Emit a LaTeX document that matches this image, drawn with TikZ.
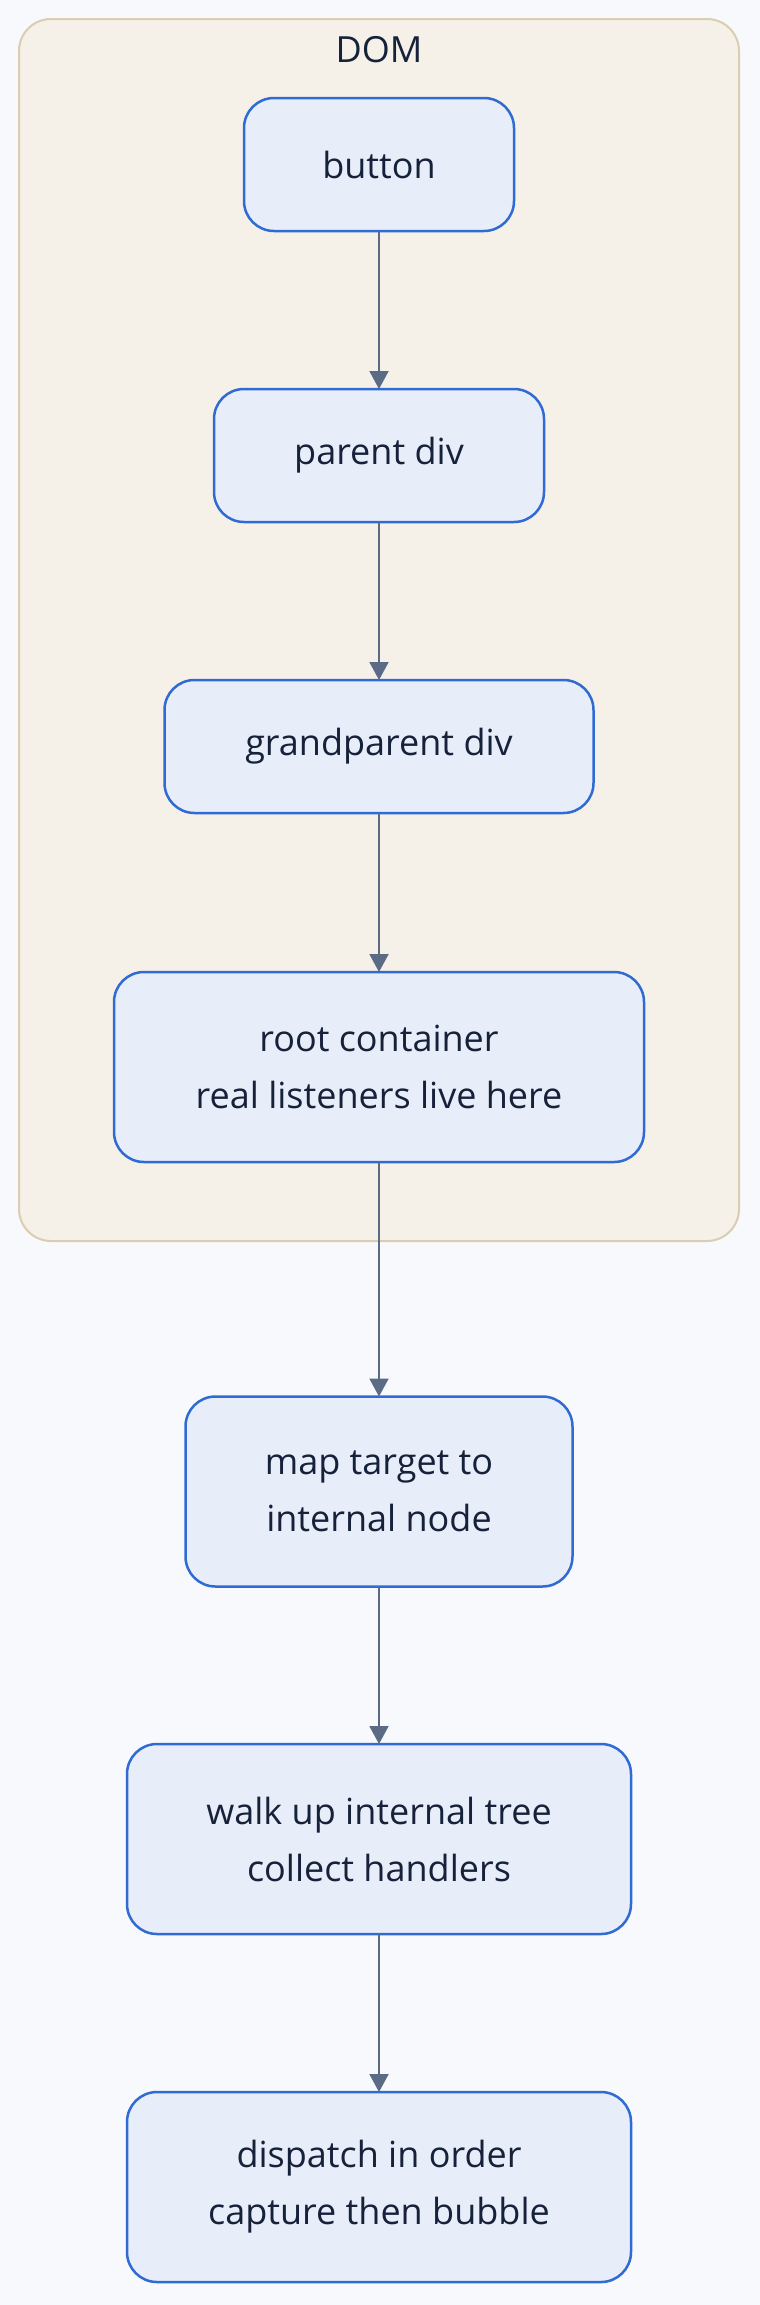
\documentclass[tikz,border=0pt]{standalone}
\usepackage{fontspec}
\setmainfont{Open Sans}
\usepackage{tikz}
\usetikzlibrary{arrows.meta,positioning,backgrounds}
\definecolor{pagebg}{HTML}{F7F9FC}
\definecolor{domfill}{HTML}{F5F0E8}
\definecolor{domline}{HTML}{D9CDB2}
\definecolor{boxfill}{HTML}{E8EEF9}
\definecolor{boxline}{HTML}{2F6BD3}
\definecolor{inkdark}{HTML}{16213A}
\definecolor{edgegray}{HTML}{5B6B86}

\begin{document}
\begin{tikzpicture}[
    font=\fontsize{36}{57}\selectfont, text=inkdark,
    stepbox/.style={draw=boxline, fill=boxfill, line width=2.5pt,
        rounded corners=30pt, align=center, minimum height=133pt,
        outer sep=0pt},
    tallbox/.style={stepbox, minimum height=190pt},
    flow/.style={draw=edgegray, line width=2pt,
        -{Triangle[width=19pt,length=18pt]}}]
    % Sfondo e riquadro
    \fill[pagebg] (0pt,0pt) rectangle (760pt,-2305pt);
    \useasboundingbox (0pt,0pt) rectangle (760pt,-2305pt);
    \draw[draw=domline, fill=domfill, line width=2pt, rounded corners=32pt]
        (19pt,-19pt) rectangle (739pt,-1241pt);
    \node (domlabel) at (379pt,-50pt) {DOM};

    % Nodi dentro il DOM
    \node[stepbox, minimum width=270pt] (button) at (379pt,-164.5pt) {button};
    \node[stepbox, minimum width=330pt] (parent) at (379pt,-455.5pt) {parent div};
    \node[stepbox, minimum width=429pt] (grand) at (379pt,-746.5pt) {grandparent div};
    \node[tallbox, minimum width=530pt] (root) at (379pt,-1067pt)
        {root container\\real listeners live here};

    % Nodi fuori
    \node[tallbox, minimum width=387pt] (maptarget) at (379pt,-1491.5pt)
        {map target to\\internal node};
    \node[tallbox, minimum width=504pt] (walkup) at (379pt,-1839pt)
        {walk up internal tree\\collect handlers};
    \node[tallbox, minimum width=504pt] (dispatch) at (379pt,-2187pt)
        {dispatch in order\\capture then bubble};

    % Frecce
    \draw[flow] (button) -- (parent);
    \draw[flow] (parent) -- (grand);
    \draw[flow] (grand) -- (root);
    \draw[flow] (root) -- (maptarget);
    \draw[flow] (maptarget) -- (walkup);
    \draw[flow] (walkup) -- (dispatch);
\end{tikzpicture}
\end{document}
